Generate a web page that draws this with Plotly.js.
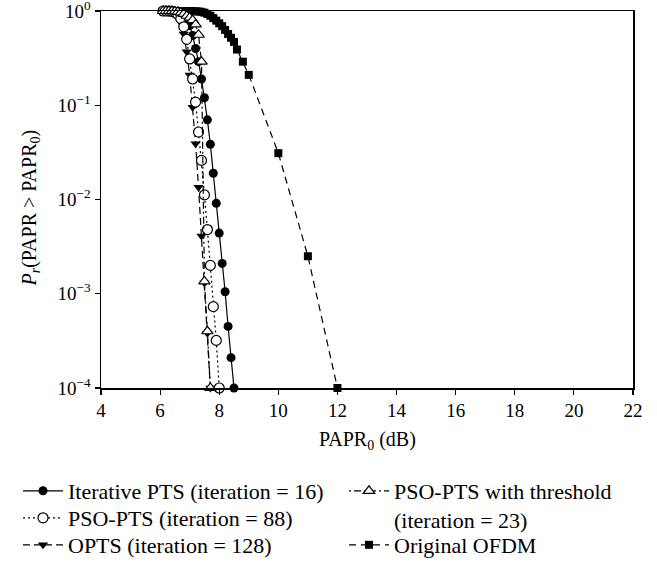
<!DOCTYPE html>
<html>
<head>
<meta charset="utf-8">
<script src="https://cdn.plot.ly/plotly-3.0.1.min.js"></script>
<style>html,body{margin:0;padding:0;background:#fff;}#chart{width:657px;height:567px;}</style>
</head>
<body>
<div id="chart"></div>
<script>
// ---- data ----
var iterX = [6.1,6.2,6.3,6.4,6.5,6.6,6.7,6.8,6.9,7.0,7.1,7.2,7.3,7.4,7.5,7.6,7.7,7.8,7.9,8.0,8.1,8.2,8.3,8.4,8.5];
var iterY = [1,1,1,0.999,0.99,0.98,0.95,0.90,0.82,0.70,0.55,0.40,0.29,0.19,0.12,0.07,0.0386,0.019,0.0091,0.0044,0.0021,0.00105,0.00045,0.00021,0.0001];

var psoX = [6.1,6.2,6.3,6.4,6.5,6.6,6.7,6.8,6.9,7.0,7.1,7.2,7.3,7.4,7.5,7.6,7.7,7.8,7.9,8.0];
var psoY = [1,1,0.998,0.99,0.97,0.92,0.83,0.68,0.5,0.31,0.19,0.108,0.052,0.026,0.0112,0.0048,0.002,0.00073,0.00032,0.0001];

var optsX = [6.1,6.2,6.3,6.4,6.5,6.6,6.7,6.8,6.9,7.0,7.1,7.2,7.3,7.4,7.5,7.6,7.7];
var optsY = [1,1,0.995,0.98,0.95,0.88,0.75,0.57,0.37,0.21,0.095,0.039,0.0135,0.0041,0.0013,0.00038,0.0001];

var thrX = [6.1,6.2,6.3,6.4,6.5,6.6,6.7,6.8,6.9,7.0,7.1,7.2,7.3,7.4,7.5,7.6,7.7];
var thrY = [1,1,1,0.998,0.99,0.98,0.96,0.93,0.89,0.85,0.8,0.72,0.56,0.29,0.00135,0.0004,0.0001];

var ofdmX = [6.1,6.2,6.3,6.4,6.5,6.6,6.7,6.8,6.9,7.0,7.1,7.2,7.3,7.4,7.5,7.6,7.7,7.8,7.9,8.0,8.1,8.2,8.3,8.4,8.5,8.6,8.8,9,10,11,12];
var ofdmY = [1,1,1,1,1,1,1,1,0.999,0.998,0.996,0.993,0.988,0.98,0.96,0.93,0.89,0.84,0.79,0.74,0.69,0.63,0.57,0.52,0.47,0.39,0.29,0.21,0.031,0.0025,0.0001];

var names = ['Iterative PTS (iteration = 16)', 'PSO-PTS (iteration = 88)', 'OPTS (iteration = 128)',
             'PSO-PTS with threshold<br>(iteration = 23)', 'Original OFDM'];
var xTicks = [4,6,8,10,12,14,16,18,20,22];
var yTickVals = [1,0.1,0.01,0.001,0.0001];
var yTickText = ['10<sup>0</sup>','10<sup>\u22121</sup>','10<sup>\u22122</sup>','10<sup>\u22123</sup>','10<sup>\u22124</sup>'];
var xTitle = 'PAPR<sub>0</sub> (dB)';
var yTitle = '<i>P<sub>r</sub></i>(PAPR &gt; PAPR<sub>0</sub>)';

var FONT = 'Liberation Serif, Times New Roman, serif';
var FS = 19;
var LFS = 22;

var traces = [
  {x: ofdmX, y: ofdmY, name: names[4], legend: 'legend5', mode: 'lines+markers',
   line: {color: '#000', width: 1.2, dash: '7px,5px'},
   marker: {symbol: 'square', size: 8, color: '#000'}},
  {x: iterX, y: iterY, name: names[0], legend: 'legend', mode: 'lines+markers',
   line: {color: '#000', width: 1.2},
   marker: {symbol: 'circle', size: 9, color: '#000'}},
  {x: optsX, y: optsY, name: names[2], legend: 'legend3', mode: 'lines+markers',
   line: {color: '#000', width: 1.2, dash: '7px,4px'},
   marker: {symbol: 'triangle-down', size: 9, color: '#000'}},
  {x: psoX, y: psoY, name: names[1], legend: 'legend2', mode: 'lines+markers',
   line: {color: '#000', width: 1.2, dash: '2px,3px'},
   marker: {symbol: 'circle', size: 10, color: '#fff', line: {color: '#000', width: 1.2}}},
  {x: thrX, y: thrY, name: names[3], legend: 'legend4', mode: 'lines+markers',
   line: {color: '#000', width: 1.2, dash: '2px,3px,7px,3px'},
   marker: {symbol: 'triangle-up', size: 10, color: '#fff', line: {color: '#000', width: 1.2}}}
];
traces.forEach(function(t){ t.cliponaxis = false; });

function leg(xpx, ypx) {
  return {xref: 'container', yref: 'container', x: xpx/657, y: 1 - ypx/567,
    xanchor: 'left', yanchor: 'top', font: {family: FONT, size: LFS},
    bgcolor: 'rgba(0,0,0,0)', itemwidth: 40, valign: 'top'};
}

var layout = {
  width: 657, height: 567,
  margin: {l: 101, r: 24, t: 11, b: 179, autoexpand: false},
  paper_bgcolor: '#fff', plot_bgcolor: '#fff',
  font: {family: FONT, size: FS, color: '#000'},
  showlegend: true,
  xaxis: {
    range: [4, 22], tickmode: 'array', tickvals: xTicks, automargin: false, tickangle: 0,
    showgrid: false, zeroline: false,
    showline: true, linecolor: '#000', linewidth: 1.5, mirror: true,
    ticks: 'outside', ticklen: 5, tickwidth: 1.2, tickcolor: '#000',
    tickfont: {family: FONT, size: FS}, ticklabeloverflow: 'allow'
  },
  yaxis: {
    type: 'log', range: [-4, 0], tickmode: 'array', tickvals: yTickVals, ticktext: yTickText, automargin: false,
    showgrid: false, zeroline: false,
    showline: true, linecolor: '#000', linewidth: 1.5, mirror: true,
    ticks: 'outside', ticklen: 5, tickwidth: 1.2, tickcolor: '#000',
    tickfont: {family: FONT, size: FS}, ticklabeloverflow: 'allow'
  },
  annotations: [
    {text: xTitle, xref: 'paper', yref: 'paper', x: 0.5, y: 0, xanchor: 'center', yanchor: 'middle',
     yshift: -52, showarrow: false, font: {family: FONT, size: 20}},
    {text: yTitle, xref: 'paper', yref: 'paper', x: 0, y: 0.5, xanchor: 'center', yanchor: 'middle',
     xshift: -71, yshift: -9, textangle: -90, showarrow: false, font: {family: FONT, size: 20}}
  ],
  legend: leg(18, 470),
  legend2: leg(18, 497),
  legend3: leg(18, 524),
  legend4: leg(344, 470),
  legend5: leg(344, 524)
};

Plotly.newPlot('chart', traces, layout, {displayModeBar: false, staticPlot: true});
</script>
</body>
</html>
